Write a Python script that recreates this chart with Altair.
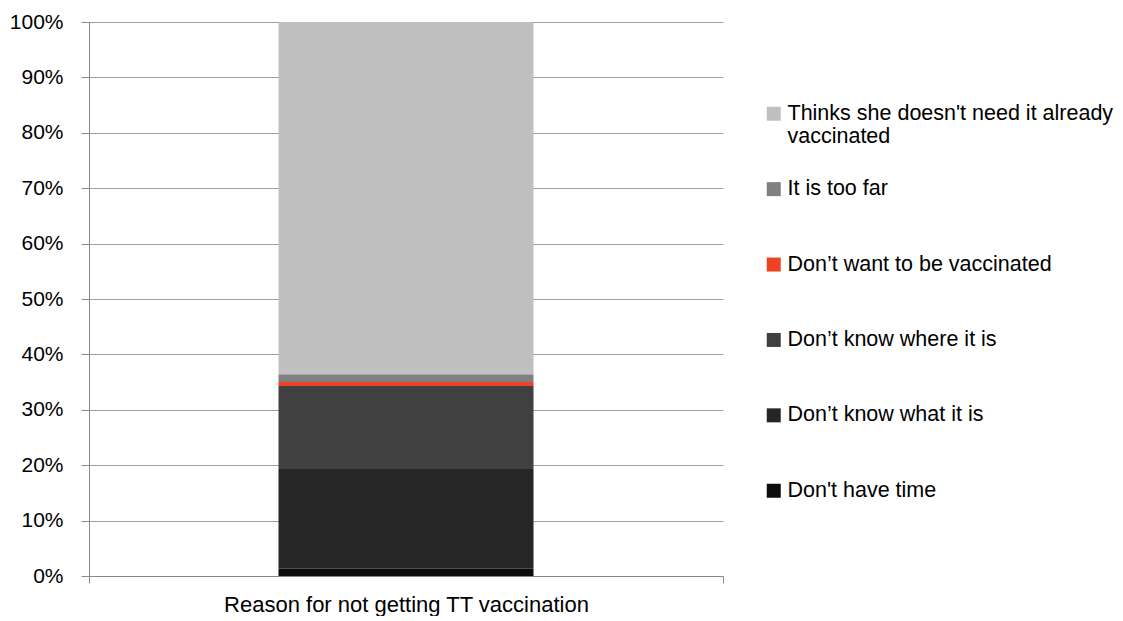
import altair as alt
import pandas as pd

categories = [
    "Don't have time",
    "Don’t know what it is",
    "Don’t know where it is",
    "Don’t want to be vaccinated",
    "It is too far",
    "Thinks she doesn't need it already vaccinated",
]
values = [0.013, 0.180, 0.150, 0.007, 0.014, 0.636]
colors = ["#0D0D0D", "#262626", "#404040", "#EF4223", "#808080", "#C0C0C0"]
group = "Reason for not getting TT vaccination"

df = pd.DataFrame({
    "group": [group] * len(categories),
    "reason": categories,
    "value": values,
    "order": list(range(len(categories))),
})

legend_order = categories[::-1]
legend_colors = colors[::-1]

FONT = "Liberation Sans, Arial, sans-serif"

chart = alt.Chart(df).mark_bar(size=255).encode(
    x=alt.X("group:N", title=None,
            scale=alt.Scale(paddingInner=0, paddingOuter=0),
            axis=alt.Axis(labelAngle=0, labelFont=FONT, labelFontSize=22,
                          labelColor="black", labelPadding=11, labelLimit=800,
                          tickBand="extent",
                          tickSize=7, tickColor="#888888", domainColor="#888888",
                          grid=False)),
    y=alt.Y("value:Q", stack="zero", title=None,
            scale=alt.Scale(domain=[0, 1], nice=False),
            axis=alt.Axis(format="%", values=[i / 10 for i in range(11)],
                          labelFont=FONT, labelFontSize=21, labelColor="black",
                          labelPadding=18, tickSize=8, tickColor="#888888",
                          domainColor="#888888", gridColor="#A0A0A0", gridWidth=1)),
    color=alt.Color("reason:N",
                    scale=alt.Scale(domain=legend_order, range=legend_colors),
                    legend=alt.Legend(
                        title=None, orient="none", legendX=674, legendY=81,
                        symbolType="square", symbolSize=196, symbolStrokeWidth=0,
                        labelFont=FONT, labelFontSize=21.5, labelColor="black",
                        labelOffset=3, labelLimit=600, rowPadding=29.4,
                        gridAlign="all",
                        labelExpr="indexof(datum.label,'Thinks')==0 ? [slice(datum.label,0,34), slice(datum.label,35)] : datum.label",
                    )),
    order=alt.Order("order:Q"),
).properties(
    width=634, height=554,
    padding={"left": 1, "top": 3, "right": 0, "bottom": 1},
).configure_view(stroke=None).configure_axis(domainWidth=1)

chart.save("out.html", embed_options={"renderer": "svg", "actions": False})
